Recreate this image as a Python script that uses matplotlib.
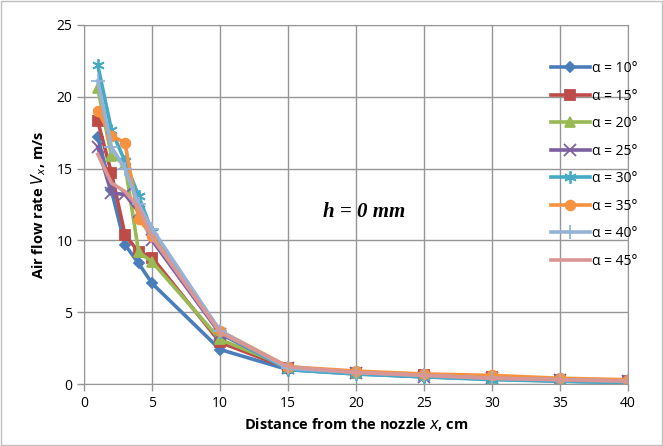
import matplotlib
matplotlib.use("Agg")
import matplotlib.pyplot as plt

plt.rcParams['font.family'] = ['Open Sans', 'DejaVu Sans']

# distance from nozzle, cm
x_cm = [1, 2, 3, 4, 5, 10, 15, 20, 25, 30, 35, 40]

v_10 = [17.2, 13.5, 9.7, 8.4, 7.0, 2.4, 1.0, 0.7, 0.5, 0.35, 0.2, 0.1]
v_15 = [18.3, 14.7, 10.4, 9.2, 8.8, 2.9, 1.1, 0.8, 0.6, 0.5, 0.3, 0.2]
v_20 = [20.6, 15.9, 15.3, 9.2, 8.5, 3.1, 1.2, 0.8, 0.6, 0.4, 0.3, 0.2]
v_25 = [16.5, 13.3, 13.2, 12.0, 10.0, 3.5, 1.1, 0.8, 0.5, 0.4, 0.3, 0.2]
v_30 = [22.2, 17.7, 15.5, 13.1, 10.6, 3.6, 1.0, 0.7, 0.5, 0.3, 0.2, 0.1]
v_35 = [19.0, 17.3, 16.8, 11.5, 10.3, 3.7, 1.2, 0.9, 0.7, 0.6, 0.4, 0.3]
v_40 = [21.1, 16.5, 15.0, 12.5, 10.8, 3.7, 1.1, 0.8, 0.6, 0.4, 0.3, 0.2]
v_45 = [16.0, 14.0, 13.4, 12.3, 10.2, 3.6, 1.2, 0.8, 0.6, 0.4, 0.3, 0.2]

angles = [10, 15, 20, 25, 30, 35, 40, 45]
series = [v_10, v_15, v_20, v_25, v_30, v_35, v_40, v_45]
colors = ['#4A7EBB', '#BE4B48', '#98B954', '#7D60A0',
          '#46AAC5', '#F69240', '#95B3D7', '#D99694']
markers = ['D', 's', '^', 'x', (6, 2, 0), 'o', '+', None]
msizes = [5.5, 6.5, 7, 8, 9, 7, 10, 0]

fig = plt.figure(figsize=(6.63, 4.46), dpi=100)
ax = fig.add_axes([0.127, 0.139, 0.82, 0.805])

for a, v, c, m, ms in zip(angles, series, colors, markers, msizes):
    ax.plot(x_cm, v, color=c, lw=2.6, marker=m, ms=ms, mew=1.3,
            label='α = %d°' % a)

ax.set_xlim(0, 40)
ax.set_ylim(0, 25)
ax.set_xticks(range(0, 41, 5))
ax.set_yticks(range(0, 26, 5))
ax.grid(True, color='#969696', lw=1.0)
ax.set_axisbelow(True)
for s in ax.spines.values():
    s.set_color('#969696')
ax.tick_params(colors='#969696', labelcolor='black', labelsize=10,
               length=5, width=1)

ax.set_xlabel('Distance from the nozzle $x$, cm', fontsize=10.5,
              fontweight='bold', labelpad=4)
ax.set_ylabel('Air flow rate $V_x$, m/s', fontsize=10.5,
              fontweight='bold', labelpad=6)

ax.text(20.6, 12.0, 'h = 0 mm', fontsize=15, fontweight='bold',
        fontstyle='italic', family='Liberation Serif', ha='center', va='center')

leg = ax.legend(loc='upper left', bbox_to_anchor=(0.848, 0.915), frameon=False,
                fontsize=10, handlelength=2.8, handletextpad=0.2,
                labelspacing=0.9, borderaxespad=0)

fig.patches.append(plt.Rectangle((0.002, 0.002), 0.996, 0.996,
                                 transform=fig.transFigure, fill=False,
                                 edgecolor='#BFBFBF', lw=1))

fig.savefig('out.png', dpi=100)
